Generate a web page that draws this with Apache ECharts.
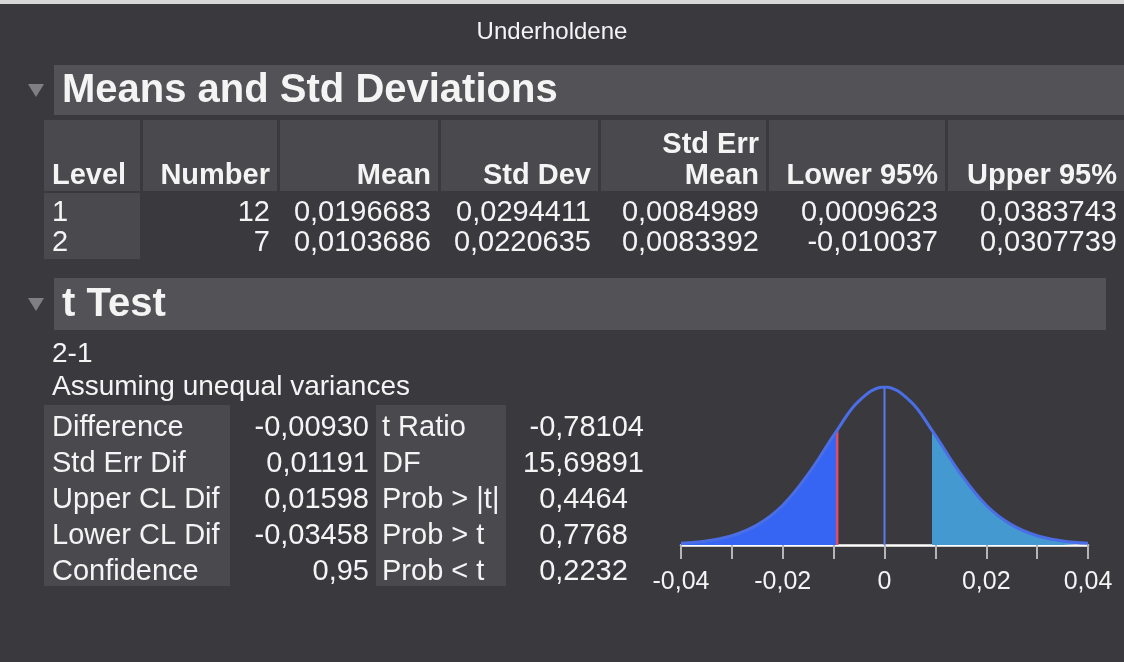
<!DOCTYPE html>
<html>
<head>
<meta charset="utf-8">
<script src="https://cdn.jsdelivr.net/npm/echarts@6/dist/echarts.min.js"></script>
<style>
  html, body { margin: 0; padding: 0; background: #3a3a3e; }
  #chart { width: 1124px; height: 662px; }
</style>
</head>
<body>
<div id="chart"></div>
<script>
// Means and Std Deviations
const meanHeaders = ['Level', 'Number', 'Mean', 'Std Dev', 'Std Err\nMean', 'Lower 95%', 'Upper 95%']
const levels = ['1', '2']
const numbers = [12, 7]
const means = [0.0196683, 0.0103686]
const stdDevs = [0.0294411, 0.0220635]
const stdErrMeans = [0.0084989, 0.0083392]
const lower95 = [0.0009623, -0.010037]
const upper95 = [0.0383743, 0.0307739]

// t Test
const leftLabels = ['Difference', 'Std Err Dif', 'Upper CL Dif', 'Lower CL Dif', 'Confidence']
const leftValues = [-0.0093, 0.01191, 0.01598, -0.03458, 0.95]
const leftDecimals = [5, 5, 5, 5, 2]
const rightLabels = ['t Ratio', 'DF', 'Prob > |t|', 'Prob > t', 'Prob < t']
const rightValues = [-0.78104, 15.69891, 0.4464, 0.7768, 0.2232]
const rightDecimals = [5, 5, 4, 4, 4]

// t distribution plot (density)
const tDiff = -0.0093
const curveX = [-0.04, -0.035, -0.03, -0.025, -0.02, -0.015, -0.0093, -0.005, 0, 0.005, 0.0093, 0.015, 0.02, 0.025, 0.03, 0.035, 0.04]
const curveY = [0.36, 0.85, 1.94, 4.2, 8.3, 14.8, 24.0, 30.1, 33.0, 30.1, 24.0, 14.8, 8.3, 4.2, 1.94, 0.85, 0.36]
const peakY = 33.0

const FONT = '"Liberation Sans", Arial, Helvetica, sans-serif'
const WHITE = '#f4f4f4'
const CELL = '#4a4a4e'
const BAR = '#535357'

const fmt = (v, d) => (d == null ? String(v) : v.toFixed(d)).replace('.', ',')

const txt = (x, y, s, size, align, bold) => ({
  type: 'text',
  x: x,
  y: y,
  silent: true,
  style: {
    text: s,
    fill: WHITE,
    font: (bold ? 'bold ' : '') + size + 'px ' + FONT,
    align: align || 'left',
    verticalAlign: 'middle',
    textAlign: align || 'left',
    textVerticalAlign: 'middle'
  }
})
const rect = (x, y, w, h, fill) => ({
  type: 'rect', silent: true, shape: { x: x, y: y, width: w, height: h }, style: { fill: fill }
})
const tri = (x, y) => ({
  type: 'polygon', silent: true,
  shape: { points: [[x, y], [x + 16, y], [x + 8, y + 13]] },
  style: { fill: '#7f7f84' }
})

const g = []
// top strip and title
g.push(rect(0, 0, 1124, 4, '#d8d8d8'))
g.push(txt(552, 32, 'Underholdene', 24, 'center'))

// section 1 header
g.push(rect(54, 65, 1070, 50, BAR))
g.push(tri(28, 84))
g.push(txt(62, 91, 'Means and Std Deviations', 40, 'left', true))

const cols = [[44, 140], [143, 277], [280, 438], [441, 598], [601, 766], [769, 945], [948, 1124]]
cols.forEach((c, i) => {
  g.push(rect(c[0], 120, c[1] - c[0], 71, CELL))
  const h = meanHeaders[i].split('\n')
  if (i === 0) {
    g.push(txt(c[0] + 8, 176, h[0], 29, 'left', true))
  } else {
    h.forEach((line, k) => {
      g.push(txt(c[1] - 7, 176 - (h.length - 1 - k) * 31, line, 29, 'right', true))
    })
  }
})
g.push(rect(44, 193, 96, 66, CELL))
const rowY = [213, 243]
const meanCols = [numbers, means, stdDevs, stdErrMeans, lower95, upper95]
levels.forEach((lv, r) => {
  g.push(txt(52, rowY[r], lv, 29, 'left'))
  meanCols.forEach((arr, i) => {
    g.push(txt(cols[i + 1][1] - 7, rowY[r], fmt(arr[r]), 29, 'right'))
  })
})

// section 2 header
g.push(rect(54, 278, 1052, 52, BAR))
g.push(tri(28, 298))
g.push(txt(62, 305, 't Test', 40, 'left', true))
g.push(txt(52, 354, '2-1', 28, 'left'))
g.push(txt(52, 387, 'Assuming unequal variances', 28, 'left'))

g.push(rect(44, 405, 186, 181, CELL))
g.push(rect(376, 405, 130, 181, CELL))
const statY = [428, 464, 500, 536, 572]
const digitW = 29 * 0.556
leftLabels.forEach((lab, r) => {
  g.push(txt(52, statY[r], lab, 29, 'left'))
  g.push(txt(369, statY[r], fmt(leftValues[r], leftDecimals[r]), 29, 'right'))
  g.push(txt(382, statY[r], rightLabels[r], 29, 'left'))
  g.push(txt(644 - (5 - rightDecimals[r]) * digitW, statY[r], fmt(rightValues[r], rightDecimals[r]), 29, 'right'))
})

const curve = curveX.map((x, i) => [x, curveY[i]])
const diffIdx = curveX.indexOf(tDiff)

const chart = echarts.init(document.getElementById('chart'))
chart.setOption({
  backgroundColor: '#3a3a3e',
  animation: false,
  graphic: { elements: g },
  grid: { left: 681, right: 36, top: 387, bottom: 117, outerBoundsMode: 'none' },
  xAxis: {
    type: 'value',
    min: -0.04,
    max: 0.04,
    interval: 0.01,
    splitLine: { show: false },
    axisLine: { show: true, onZero: false, lineStyle: { color: '#ffffff', width: 2.5 } },
    axisTick: { show: true, length: 14, lineStyle: { color: '#b5b5b8', width: 2 } },
    axisLabel: {
      margin: 25,
      color: WHITE,
      fontSize: 25,
      fontFamily: FONT,
      showMinLabel: true,
      showMaxLabel: true,
      formatter: v => {
        const r = Math.round(v * 100)
        if (r % 2 !== 0) return ''
        return r === 0 ? '0' : (r / 100).toFixed(2).replace('.', ',')
      }
    }
  },
  yAxis: { type: 'value', show: false, min: 0, max: peakY },
  visualMap: {
    show: false,
    type: 'piecewise',
    seriesIndex: 0,
    dimension: 0,
    pieces: [
      { lt: tDiff, color: '#3565f2' },
      { gte: tDiff, lte: -tDiff, color: 'rgba(0,0,0,0)' },
      { gt: -tDiff, color: '#4499d0' }
    ]
  },
  series: [
    {
      type: 'line',
      data: curve,
      smooth: 0.4,
      showSymbol: false,
      silent: true,
      lineStyle: { width: 0 },
      areaStyle: { opacity: 1 },
      z: 1
    },
    {
      type: 'line',
      data: curve,
      smooth: 0.4,
      showSymbol: false,
      silent: true,
      lineStyle: { color: '#4b6ee6', width: 3 },
      z: 3
    },
    {
      type: 'line',
      data: [[tDiff, 0], [tDiff, curveY[diffIdx]]],
      showSymbol: false,
      silent: true,
      lineStyle: { color: '#dc4f6a', width: 2.5 },
      z: 2
    },
    {
      type: 'line',
      data: [[0, 0], [0, peakY]],
      showSymbol: false,
      silent: true,
      lineStyle: { color: '#5b78ee', width: 2 },
      z: 2
    }
  ]
})
window.addEventListener('resize', () => chart.resize())
</script>
</body>
</html>
